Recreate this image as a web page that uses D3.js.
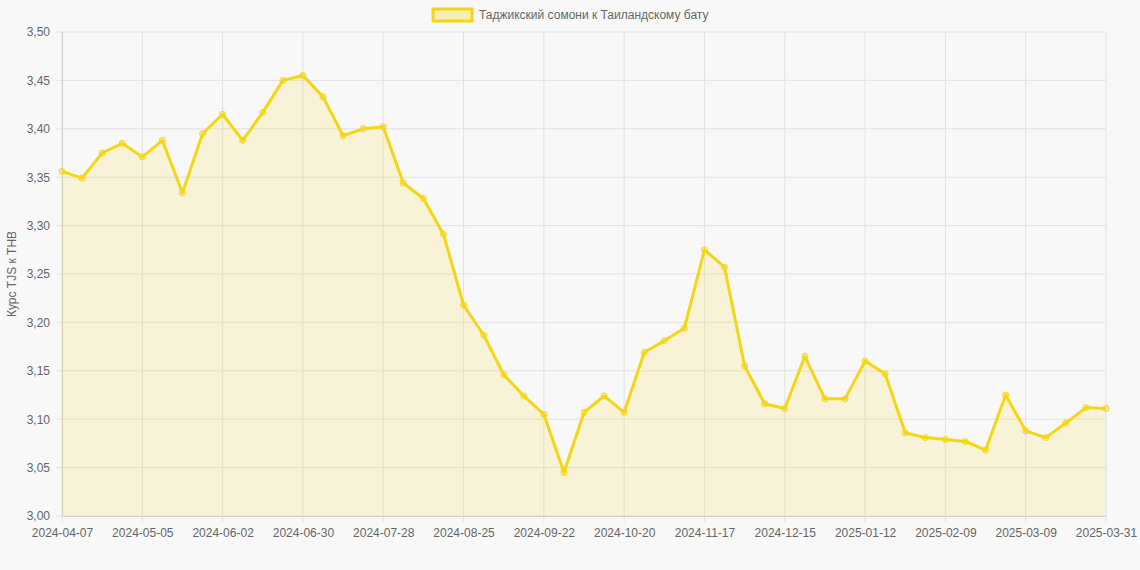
<!DOCTYPE html>
<html><head><meta charset="utf-8">
<script src="https://cdn.jsdelivr.net/npm/d3@7"></script>
<style>body{margin:0;background:#f8f8f8;font-family:"Helvetica Neue",Arial,"Liberation Sans",sans-serif}</style>
</head><body><div id="chart"></div>
<script>
var dates = ["2024-04-07","2024-04-14","2024-04-21","2024-04-28","2024-05-05","2024-05-12","2024-05-19","2024-05-26",
  "2024-06-02","2024-06-09","2024-06-16","2024-06-23","2024-06-30","2024-07-07","2024-07-14","2024-07-21","2024-07-28",
  "2024-08-04","2024-08-11","2024-08-18","2024-08-25","2024-09-01","2024-09-08","2024-09-15","2024-09-22","2024-09-29",
  "2024-10-06","2024-10-13","2024-10-20","2024-10-27","2024-11-03","2024-11-10","2024-11-17","2024-11-24",
  "2024-12-01","2024-12-08","2024-12-15","2024-12-22","2024-12-29","2025-01-05","2025-01-12","2025-01-19","2025-01-26",
  "2025-02-02","2025-02-09","2025-02-16","2025-02-23","2025-03-02","2025-03-09","2025-03-16","2025-03-23","2025-03-30","2025-03-31"]
var rates = [3.356,3.349,3.375,3.385,3.371,3.388,3.334,3.395,3.415,3.388,3.417,3.450,3.455,3.433,3.393,3.400,3.402,
  3.344,3.328,3.291,3.218,3.187,3.146,3.124,3.105,3.045,3.107,3.124,3.107,3.169,3.181,3.194,3.275,3.257,
  3.155,3.116,3.111,3.165,3.121,3.121,3.160,3.147,3.086,3.081,3.079,3.077,3.068,3.125,3.088,3.081,3.096,3.112,3.111]
var yTicks = [3.00,3.05,3.10,3.15,3.20,3.25,3.30,3.35,3.40,3.45,3.50]
var seriesName = "Таджикский сомони к Таиландскому бату"

var W = 1140, H = 570, m = {l:62, r:34, t:32, b:54}
var svg = d3.select('#chart').append('svg').attr('width', W).attr('height', H)
var x = d3.scalePoint().domain(dates).range([m.l, W - m.r])
var y = d3.scaleLinear().domain([3.0, 3.5]).range([H - m.b, m.t])
var fmt = function(v){ return d3.format('.2f')(v).replace('.', ',') }
var lineC = '#f5d614', fillC = 'rgba(245,214,20,0.15)'

// grid
var tickDates = dates.filter(function(d,i){ return i % 4 === 0 || i === dates.length - 1 })
svg.append('g').selectAll('line').data(tickDates).enter().append('line')
  .attr('x1', function(d){ return x(d) }).attr('x2', function(d){ return x(d) })
  .attr('y1', m.t).attr('y2', H - m.b + 6).attr('stroke', '#e2e2e2')
svg.append('g').selectAll('line').data(yTicks).enter().append('line')
  .attr('x1', m.l - 6).attr('x2', W - m.r)
  .attr('y1', function(d){ return y(d) }).attr('y2', function(d){ return y(d) }).attr('stroke', '#e2e2e2')

var xAxis = svg.append('g').attr('transform', 'translate(0,' + (H - m.b) + ')')
  .call(d3.axisBottom(x).tickValues(tickDates).tickSize(0).tickPadding(12))
var yAxis = svg.append('g').attr('transform', 'translate(' + m.l + ',0)')
  .call(d3.axisLeft(y).tickValues(yTicks).tickFormat(fmt).tickSize(0).tickPadding(12))
;[xAxis, yAxis].forEach(function(a){
  a.select('.domain').attr('stroke', '#d0d0d0')
  a.selectAll('text').attr('fill', '#666').style('font-size', '12px')
})

var pts = dates.map(function(d,i){ return [x(d), y(rates[i])] })
svg.append('path').datum(pts)
  .attr('d', d3.area().x(function(p){ return p[0] }).y0(y(3.0)).y1(function(p){ return p[1] }))
  .attr('fill', fillC)
svg.append('path').datum(pts).attr('d', d3.line()).attr('fill', 'none')
  .attr('stroke', lineC).attr('stroke-width', 3).attr('stroke-linejoin', 'round')
svg.append('g').selectAll('circle').data(pts).enter().append('circle')
  .attr('cx', function(p){ return p[0] }).attr('cy', function(p){ return p[1] }).attr('r', 3)
  .attr('fill', 'rgba(245,214,20,0.3)').attr('stroke', lineC).attr('stroke-width', 1)

// legend
var lg = svg.append('g')
var lt = lg.append('text').attr('x', 479).attr('y', 19).attr('fill', '#666').style('font-size', '12px').text(seriesName)
lg.append('rect').attr('x', 433).attr('y', 9).attr('width', 39).attr('height', 12)
  .attr('fill', 'rgba(245,214,20,0.3)').attr('stroke', lineC).attr('stroke-width', 3)

svg.append('text').attr('transform', 'translate(16,' + ((m.t + H - m.b) / 2) + ') rotate(-90)')
  .attr('text-anchor', 'middle').attr('fill', '#666').style('font-size', '12px').text('Курс TJS к THB')
</script></body></html>
